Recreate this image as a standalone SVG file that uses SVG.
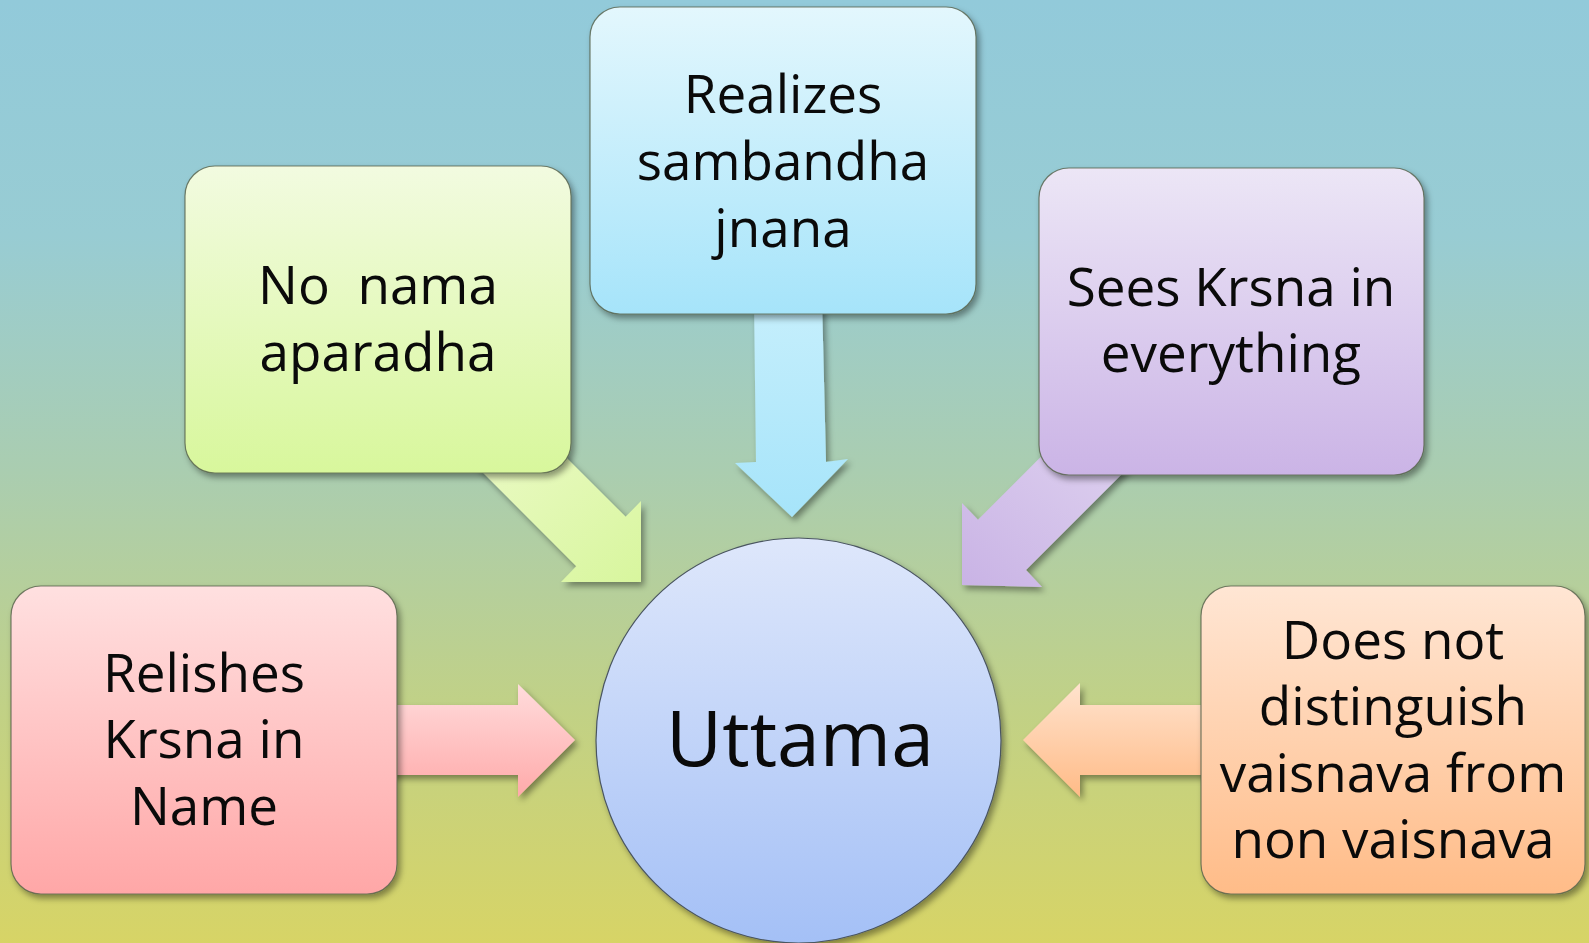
<svg xmlns="http://www.w3.org/2000/svg" width="1589" height="943" viewBox="0 0 1589 943">
<defs>
  <linearGradient id="bg" x1="0" y1="0" x2="0" y2="1">
    <stop offset="0" stop-color="#92CADA"/>
    <stop offset="0.25" stop-color="#98CCD3"/>
    <stop offset="0.5" stop-color="#AACDB0"/>
    <stop offset="0.75" stop-color="#C1D186"/>
    <stop offset="1" stop-color="#D7D466"/>
  </linearGradient>
  <linearGradient id="gGreen" x1="0" y1="0" x2="0" y2="1">
    <stop offset="0" stop-color="#F2FBE0"/>
    <stop offset="1" stop-color="#D8F79C"/>
  </linearGradient>
  <linearGradient id="gBlue" x1="0" y1="0" x2="0" y2="1">
    <stop offset="0" stop-color="#E3F7FD"/>
    <stop offset="1" stop-color="#A6E4FA"/>
  </linearGradient>
  <linearGradient id="gPurple" x1="0" y1="0" x2="0" y2="1">
    <stop offset="0" stop-color="#ECE6F6"/>
    <stop offset="1" stop-color="#CBB4E6"/>
  </linearGradient>
  <linearGradient id="gPink" x1="0" y1="0" x2="0" y2="1">
    <stop offset="0" stop-color="#FFE0E0"/>
    <stop offset="1" stop-color="#FFA7A7"/>
  </linearGradient>
  <linearGradient id="gOrange" x1="0" y1="0" x2="0" y2="1">
    <stop offset="0" stop-color="#FFE6D4"/>
    <stop offset="1" stop-color="#FFBC88"/>
  </linearGradient>
  <linearGradient id="gCircle" x1="0" y1="0" x2="0" y2="1">
    <stop offset="0" stop-color="#DEE7FB"/>
    <stop offset="1" stop-color="#A4C0F6"/>
  </linearGradient>
  <linearGradient id="aGreen" x1="0" y1="0" x2="1" y2="1">
    <stop offset="0" stop-color="#ECFAC8"/>
    <stop offset="1" stop-color="#D8F69E"/>
  </linearGradient>
  <linearGradient id="aBlue" x1="0" y1="0" x2="0" y2="1">
    <stop offset="0" stop-color="#C6EFFC"/>
    <stop offset="1" stop-color="#A6E4FA"/>
  </linearGradient>
  <linearGradient id="aPurple" x1="1" y1="0" x2="0" y2="1">
    <stop offset="0" stop-color="#E0D4F0"/>
    <stop offset="1" stop-color="#C9B3E5"/>
  </linearGradient>
  <linearGradient id="aPink" x1="0" y1="0" x2="0" y2="1">
    <stop offset="0" stop-color="#FFDCDC"/>
    <stop offset="1" stop-color="#FFAAAA"/>
  </linearGradient>
  <linearGradient id="aOrange" x1="0" y1="0" x2="0" y2="1">
    <stop offset="0" stop-color="#FFE3CE"/>
    <stop offset="1" stop-color="#FFBB87"/>
  </linearGradient>
  <filter id="shadow" x="-20%" y="-20%" width="140%" height="140%">
    <feDropShadow dx="3" dy="4" stdDeviation="3" flood-color="#000" flood-opacity="0.4"/>
  </filter>
</defs>
<style>
  .box { stroke: #55604a; stroke-width: 1.2; stroke-opacity: 0.8; filter: url(#shadow); }
  .arrow { filter: url(#shadow); }
  .lbl { font-family: "Open Sans", "Noto Sans", "DejaVu Sans", sans-serif; font-size: 53px; fill: #0a0a0a; text-anchor: middle; }
  .big { font-size: 77px; }
</style>
<rect x="0" y="0" width="1589" height="943" fill="url(#bg)"/>

<g id="connectors">
  <polygon class="arrow" fill="url(#aGreen)" points="548.7,440 625.7,516.8 641,501 641,582 561,582 576.3,566.2 450.3,440"/>
  <polygon class="arrow" fill="url(#aBlue)" points="754,300 822,300 826,462 848,459 792,517 735,463 756,462"/>
  <polygon class="arrow" fill="url(#aPurple)" points="1057.7,440 978,519.7 962,503 962,585 1042,587 1026,570 1156,440"/>
  <polygon class="arrow" fill="url(#aPink)" points="380,705 518,705 518,684 575,740 518,797 518,775 380,775"/>
  <polygon class="arrow" fill="url(#aOrange)" points="1220,705 1080,705 1080,683 1023,740 1080,797 1080,775 1220,775"/>
</g>

<g id="node-no-nama">
  <rect class="box" x="185" y="166" width="386" height="307" rx="30" fill="url(#gGreen)"/>
  <text class="lbl" xml:space="preserve"><tspan x="378" y="304">No  nama</tspan><tspan x="378" y="371">aparadha</tspan></text>
</g>

<g id="node-realizes">
  <rect class="box" x="590" y="7" width="386" height="307" rx="30" fill="url(#gBlue)"/>
  <text class="lbl"><tspan x="783" y="113">Realizes</tspan><tspan x="783" y="180">sambandha</tspan><tspan x="783" y="247">jnana</tspan></text>
</g>

<g id="node-sees">
  <rect class="box" x="1039" y="168" width="385" height="307" rx="30" fill="url(#gPurple)"/>
  <text class="lbl"><tspan x="1231" y="306">Sees Krsna in</tspan><tspan x="1231" y="372">everything</tspan></text>
</g>

<g id="node-relishes">
  <rect class="box" x="11" y="586" width="386" height="308" rx="30" fill="url(#gPink)"/>
  <text class="lbl"><tspan x="204" y="692">Relishes</tspan><tspan x="204" y="758">Krsna in</tspan><tspan x="204" y="825">Name</tspan></text>
</g>

<g id="node-does-not">
  <rect class="box" x="1201" y="586" width="384" height="308" rx="30" fill="url(#gOrange)"/>
  <text class="lbl"><tspan x="1393" y="659">Does not</tspan><tspan x="1393" y="725">distinguish</tspan><tspan x="1393" y="792">vaisnava from</tspan><tspan x="1393" y="858">non vaisnava</tspan></text>
</g>

<g id="node-uttama">
  <circle cx="798.5" cy="740.5" r="202.5" fill="url(#gCircle)" stroke="#4a5560" stroke-width="1.2" filter="url(#shadow)"/>
  <text class="lbl big" x="800" y="766">Uttama</text>
</g>
</svg>
